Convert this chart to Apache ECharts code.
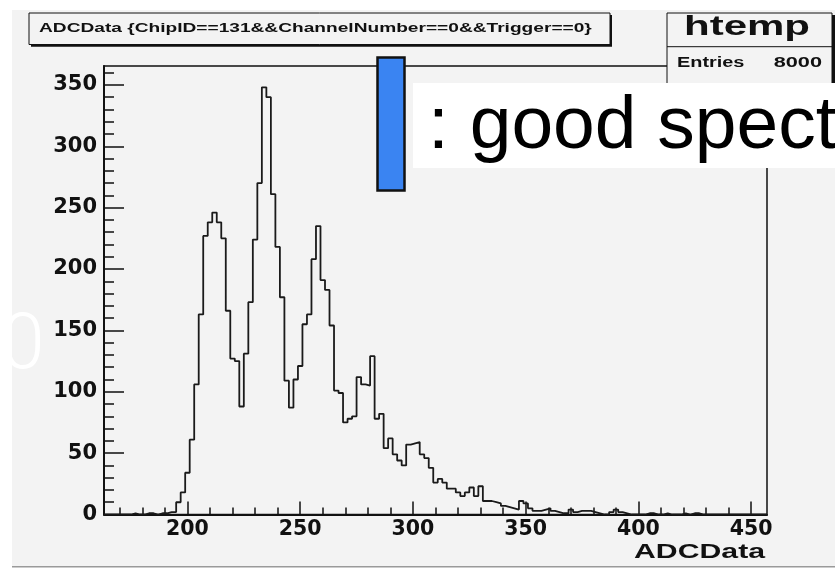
<!DOCTYPE html>
<html>
<head>
<meta charset="utf-8">
<script src="https://cdn.jsdelivr.net/npm/echarts@6/dist/echarts.min.js"></script>
<style>
html,body{margin:0;padding:0;background:#fff;}
#chart{width:835px;height:570px;}
</style>
</head>
<body>
<div id="chart"></div>
<script>
// ---- histogram definition (ROOT htemp) ----
const binLow = 163;
const binWidth = 2;
const counts = [
  0,0,0,0,0,0,1,0,0,1,
  1,0,1,1,2,2,10,18,34,61,
  106,163,227,238,246,238,225,166,127,125,
  88,131,173,224,270,348,340,261,218,177,
  109,87,110,121,155,163,208,235,191,183,
  154,101,99,75,78,80,112,106,105,129,
  78,82,54,62,49,44,40,57,58,59,
  49,46,38,26,29,26,21,21,18,15,
  18,22,15,23,11,11,10,9,7,6,
  5,4,11,9,5,3,3,4,5,3,
  2,1,1,4,2,3,3,3,2,1,
  0,0,2,4,2,1,0,0,0,0,
  1,1,0,0,1,0,0,0,1,0,
  1,1,0,0,0,0,0,0,0,0,
  0,0,0,0,0,0,0
];
const xMin = 163, xMax = 457;
const yMin = 0, yMax = 365.4;
const xMajorTicks = [200, 250, 300, 350, 400, 450];
const xMinorTicks = [170,180,190,210,220,230,240,260,270,280,290,310,320,330,340,360,370,380,390,410,420,430,440];
const yMajorTicks = [0, 50, 100, 150, 200, 250, 300, 350];
const yMinorTicks = [10,20,30,40,60,70,80,90,110,120,130,140,160,170,180,190,210,220,230,240,260,270,280,290,310,320,330,340,360];

// ---- texts ----
const titleText = 'ADCData {ChipID==131&&ChannelNumber==0&&Trigger==0}';
const statsName = 'htemp';
const statsLabel = 'Entries';
const statsEntries = '8000';
const xAxisTitle = 'ADCData';
const overlayText = ': good spect';
const sideText = '0';

// build step outline points from bins
const histPoints = counts.map((c, i) => [binLow + i * binWidth, c]);
histPoints.push([binLow + counts.length * binWidth, counts[counts.length - 1]]);

const PANEL = '#f3f3f3';
const INK = '#111111';
const tickFont = 'DejaVu Sans';

const chart = echarts.init(document.getElementById('chart'), null, {renderer: 'canvas'});

const option = {
  animation: false,
  backgroundColor: PANEL,
  grid: {
    left: 104, right: 68, top: 66, bottom: 55.5,
    show: true, backgroundColor: PANEL, borderColor: INK, borderWidth: 1.5
  },
  xAxis: [
    {
      type: 'value', min: xMin, max: xMax, position: 'bottom',
      axisLine: {show: true, onZero: false, lineStyle: {color: INK, width: 2}},
      axisTick: {show: true, inside: true, length: 13, customValues: xMajorTicks, lineStyle: {color: INK, width: 1.5}},
      axisLabel: {show: true, customValues: xMajorTicks, margin: 5, color: INK,
        fontFamily: tickFont, fontWeight: 'bold', fontSize: 20.5},
      splitLine: {show: false}
    },
    {
      type: 'value', min: xMin, max: xMax, position: 'bottom',
      axisLine: {show: false},
      axisTick: {show: true, inside: true, length: 7, customValues: xMinorTicks, lineStyle: {color: INK, width: 1.5}},
      axisLabel: {show: false},
      splitLine: {show: false}
    }
  ],
  yAxis: [
    {
      type: 'value', min: yMin, max: yMax, position: 'left',
      axisLine: {show: true, onZero: false, lineStyle: {color: INK, width: 2}},
      axisTick: {show: true, inside: true, length: 20, customValues: yMajorTicks, lineStyle: {color: INK, width: 1.5}},
      axisLabel: {show: true, customValues: yMajorTicks, margin: 7, color: INK,
        fontFamily: tickFont, fontWeight: 'bold', fontSize: 21},
      splitLine: {show: false}
    },
    {
      type: 'value', min: yMin, max: yMax, position: 'left',
      axisLine: {show: false},
      axisTick: {show: true, inside: true, length: 10, customValues: yMinorTicks, lineStyle: {color: INK, width: 1.5}},
      axisLabel: {show: false},
      splitLine: {show: false}
    }
  ],
  series: [{
    type: 'line',
    xAxisIndex: 0, yAxisIndex: 0,
    data: histPoints,
    step: 'end',
    symbol: 'none',
    clip: true,
    lineStyle: {color: '#1a1a1a', width: 1.8},
    z: 3
  }],
  graphic: {
    elements: [
      // outer white margins of the screenshot
      {type: 'rect', z: 100, shape: {x: 0, y: 0, width: 835, height: 10}, style: {fill: '#ffffff'}},
      {type: 'rect', z: 100, shape: {x: 0, y: 0, width: 12, height: 570}, style: {fill: '#ffffff'}},
      {type: 'rect', z: 100, shape: {x: 0, y: 567, width: 835, height: 3}, style: {fill: '#ffffff'}},
      {type: 'rect', z: 100, shape: {x: 12, y: 566, width: 823, height: 1.5}, style: {fill: '#9a9a9a'}},
      // title box with shadow
      {type: 'rect', z: 100, shape: {x: 31, y: 15, width: 581, height: 31.7}, style: {fill: INK}},
      {type: 'rect', z: 100, shape: {x: 29, y: 13, width: 581, height: 31.5}, style: {fill: PANEL, stroke: INK, lineWidth: 1}},
      {type: 'text', z: 100, x: 39, y: 28.5, scaleX: 1.417,
        style: {text: titleText, fill: INK, font: 'bold 13.5px "Liberation Sans", Arial, sans-serif', textAlign: 'left', textVerticalAlign: 'middle'}},
      // stats box with shadow
      {type: 'rect', z: 100, shape: {x: 669, y: 15, width: 166, height: 110}, style: {fill: INK}},
      {type: 'rect', z: 100, shape: {x: 667, y: 13, width: 165, height: 108}, style: {fill: PANEL, stroke: INK, lineWidth: 1}},
      {type: 'line', z: 100, shape: {x1: 667, y1: 46.7, x2: 832, y2: 46.7}, style: {stroke: INK, lineWidth: 1}},
      {type: 'text', z: 100, x: 747, y: 27.5, scaleX: 1.5,
        style: {text: statsName, fill: INK, font: 'bold 28px "Liberation Sans", Arial, sans-serif', textAlign: 'center', textVerticalAlign: 'middle'}},
      {type: 'text', z: 100, x: 677, y: 63.5, scaleX: 1.42,
        style: {text: statsLabel, fill: INK, font: 'bold 14px "Liberation Sans", Arial, sans-serif', textAlign: 'left', textVerticalAlign: 'middle'}},
      {type: 'text', z: 100, x: 822, y: 63.5, scaleX: 1.55,
        style: {text: statsEntries, fill: INK, font: 'bold 14px "Liberation Sans", Arial, sans-serif', textAlign: 'right', textVerticalAlign: 'middle'}},
      // x axis title
      {type: 'text', z: 100, x: 765, y: 552.5, scaleX: 1.55,
        style: {text: xAxisTitle, fill: INK, font: 'bold 19.5px "Liberation Sans", Arial, sans-serif', textAlign: 'right', textVerticalAlign: 'middle'}},
      // slide overlays
      {type: 'text', z: 110, x: 23, y: 348,
        style: {text: sideText, fill: '#ffffff', font: '300 78px Roboto, "Liberation Sans", sans-serif', textAlign: 'center', textVerticalAlign: 'middle'}},
      {type: 'rect', z: 110, shape: {x: 377.5, y: 57.5, width: 27, height: 133}, style: {fill: '#3a84f2', stroke: INK, lineWidth: 2.5}},
      {type: 'rect', z: 110, shape: {x: 413, y: 83, width: 422, height: 85}, style: {fill: '#ffffff'}},
      {type: 'text', z: 111, x: 428, y: 127,
        style: {text: overlayText, fill: '#000000', font: '75px "Liberation Sans", Arial, sans-serif', textAlign: 'left', textVerticalAlign: 'middle'}}
    ]
  }
};
chart.setOption(option);
</script>
</body>
</html>
